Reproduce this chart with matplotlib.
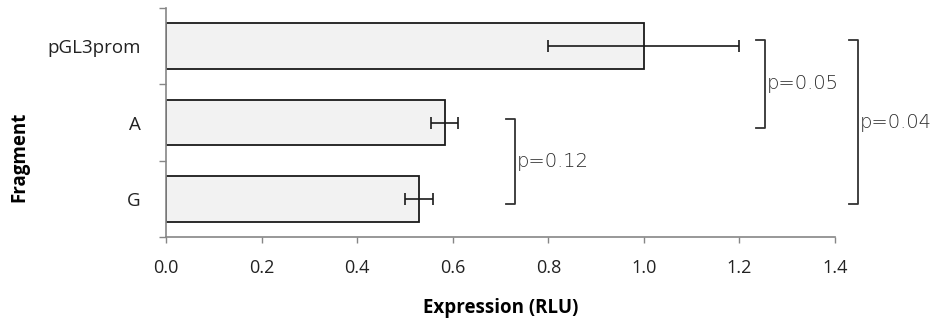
import matplotlib
matplotlib.use("Agg")
import matplotlib.pyplot as plt
import numpy as np

# Luciferase expression per fragment
fragments = ["pGL3prom", "A", "G"]
expression = [1.0, 0.583, 0.530]
errors = [0.20, 0.029, 0.029]

# Pairwise comparisons: (first fragment index, second fragment index, label)
comparisons = [(0, 1, "p=0.05"), (0, 2, "p=0.04"), (1, 2, "p=0.12")]
bracket_x = [1.254, 1.448, 0.730]

xticks = [0.0, 0.2, 0.4, 0.6, 0.8, 1.0, 1.2, 1.4]

plt.rcParams["font.family"] = ["Open Sans", "DejaVu Sans"]

fig = plt.figure(figsize=(9.35, 3.2), dpi=100)
ax = fig.add_axes([166 / 935, 1 - 237 / 320, (835 - 166) / 935, (237 - 8) / 320])

ypos = np.arange(len(fragments))
ax.barh(ypos, expression, height=0.6, color="#f2f2f2", edgecolor="#1a1a1a",
        linewidth=1.3, zorder=2)
ax.errorbar(expression, ypos, xerr=errors, fmt="none", ecolor="#1a1a1a",
            elinewidth=1.2, capsize=4.5, capthick=1.2, zorder=3)

ax.set_xlim(0, 1.4)
ax.set_ylim(2.5, -0.5)
ax.set_xticks(xticks)
ax.set_xticklabels([f"{v:.1f}" for v in xticks], fontsize=13, color="#222222")
ax.set_yticks(ypos)
ax.set_yticklabels(fragments, fontsize=13.5, color="#222222")
ax.set_yticks([-0.5, 0.5, 1.5, 2.5], minor=True)
ax.tick_params(axis="y", which="major", length=0, pad=18)
ax.tick_params(axis="y", which="minor", length=5, width=1, color="#868686", direction="out")
ax.tick_params(axis="x", which="major", length=4, width=1, color="#868686",
               direction="out", pad=12)

for side in ("top", "right"):
    ax.spines[side].set_visible(False)
for side in ("left", "bottom"):
    ax.spines[side].set_color("#868686")
    ax.spines[side].set_linewidth(1.2)

ax.set_xlabel("Expression (RLU)", fontsize=13.5, fontweight="bold")
ax.xaxis.set_label_coords(0.5, -0.265)
ax.set_ylabel("Fragment", fontsize=13.5, fontweight="bold")
ax.yaxis.set_label_coords(-0.2035, 0.35)

# Significance brackets between fragment pairs
for (i, j, label), bx in zip(comparisons, bracket_x):
    y0 = ypos[i] - 0.08 if i == 0 else ypos[i] - 0.04
    y1 = ypos[j] + 0.07
    cap = 0.019
    ax.plot([bx - cap, bx, bx, bx - cap], [y0, y0, y1, y1], color="#333333",
            linewidth=1.3, clip_on=False, zorder=4)
    ax.text(bx + 0.004, (y0 + y1) / 2, label, fontsize=14, color="#2a2a2a",
            family=["DejaVu Sans"], fontweight="light", va="center", ha="left",
            clip_on=False)

fig.savefig("out.png", dpi=100)
